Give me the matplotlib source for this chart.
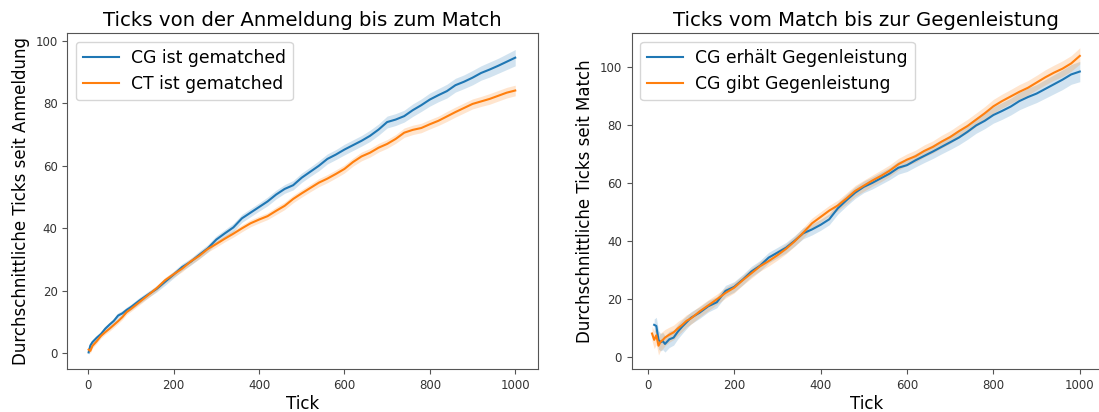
import numpy as np
import matplotlib.pyplot as plt

# linkes Diagramm: Ticks von der Anmeldung bis zum Match
tick_l = [1, 5, 10, 20, 30, 40, 50, 60, 70, 80, 90, 100, 120, 140, 160, 180, 200,
          220, 240, 260, 280, 300, 320, 340, 360, 380, 400, 420, 440, 460, 480, 500,
          520, 540, 560, 580, 600, 620, 640, 660, 680, 700, 720, 740, 760, 780, 800,
          820, 840, 860, 880, 900, 920, 940, 960, 980, 1000]
cg_gematched = [0.3, 2.5, 3.6, 5.0, 6.2, 7.9, 9.2, 10.4, 12.1, 12.8, 13.9, 14.8, 16.9, 18.8,
                20.6, 22.9, 25.2, 27.6, 29.3, 31.5, 33.6, 36.4, 38.4, 40.3, 43.2, 45.0, 46.8,
                48.6, 50.8, 52.6, 53.8, 56.2, 58.1, 60.0, 62.2, 63.6, 65.2, 66.6, 68.0, 69.6,
                71.6, 74.0, 74.8, 75.9, 77.8, 79.4, 81.2, 82.6, 83.9, 85.8, 86.9, 88.2, 89.7,
                90.8, 92.0, 93.3, 94.6]
cg_gematched_ci = [0.8, 0.8, 0.8, 0.8, 0.8, 0.8, 0.8, 0.8, 0.9, 0.9, 0.9, 0.9, 1.0, 1.0,
                   1.0, 1.1, 1.1, 1.1, 1.1, 1.2, 1.2, 1.2, 1.2, 1.3, 1.3, 1.3, 1.3, 1.4, 1.4,
                   1.4, 1.5, 1.5, 1.5, 1.6, 1.6, 1.6, 1.7, 1.7, 1.7, 1.8, 1.8, 1.9, 1.9, 1.9,
                   2.0, 2.0, 2.1, 2.1, 2.2, 2.2, 2.2, 2.3, 2.3, 2.4, 2.4, 2.5, 2.6]
ct_gematched = [1.2, 0.8, 2.4, 3.9, 5.6, 6.8, 7.9, 9.1, 10.3, 11.6, 13.2, 14.2, 16.4, 18.6,
                20.8, 23.4, 25.3, 27.1, 29.4, 31.2, 33.4, 35.0, 36.7, 38.3, 40.0, 41.6, 42.8,
                43.9, 45.6, 47.2, 49.4, 51.2, 52.9, 54.6, 55.9, 57.4, 59.0, 61.2, 63.0, 64.2,
                65.8, 67.0, 68.6, 70.6, 71.5, 72.1, 73.3, 74.4, 75.8, 77.2, 78.5, 79.8, 80.6,
                81.4, 82.4, 83.4, 84.1]
ct_gematched_ci = [0.7, 0.7, 0.7, 0.7, 0.7, 0.7, 0.8, 0.8, 0.8, 0.8, 0.8, 0.8, 0.9, 0.9,
                   0.9, 0.9, 0.9, 1.0, 1.0, 1.0, 1.0, 1.0, 1.0, 1.1, 1.1, 1.1, 1.1, 1.1, 1.2,
                   1.2, 1.2, 1.2, 1.2, 1.3, 1.3, 1.3, 1.3, 1.3, 1.4, 1.4, 1.4, 1.4, 1.4, 1.5,
                   1.5, 1.5, 1.5, 1.5, 1.6, 1.6, 1.6, 1.6, 1.6, 1.7, 1.7, 1.7, 1.7]

# rechtes Diagramm: Ticks vom Match bis zur Gegenleistung
tick_erh = [15, 20, 25, 30, 35, 40, 50, 60, 70, 80, 90, 100, 120, 140, 160, 180, 200,
            220, 240, 260, 280, 300, 320, 340, 360, 380, 400, 420, 440, 460, 480, 500,
            520, 540, 560, 580, 600, 620, 640, 660, 680, 700, 720, 740, 760, 780, 800,
            820, 840, 860, 880, 900, 920, 940, 960, 980, 1000]
cg_erhaelt = [11.2, 10.8, 6.0, 5.2, 5.6, 4.6, 6.2, 6.8, 8.9, 10.6, 12.1, 13.6, 15.4, 17.6,
              19.0, 22.9, 24.3, 26.8, 29.6, 31.6, 34.4, 36.1, 37.8, 40.2, 42.8, 44.1, 45.7,
              47.6, 51.4, 54.2, 56.8, 58.8, 60.2, 61.8, 63.4, 65.4, 66.3, 68.0, 69.5, 71.0,
              72.6, 74.2, 75.8, 77.8, 80.0, 81.6, 83.6, 85.0, 86.5, 88.4, 89.8, 91.0, 92.6,
              94.2, 95.8, 97.6, 98.6]
cg_erhaelt_ci = [2.0, 3.0, 3.2, 3.0, 3.0, 2.8, 2.8, 2.6, 2.5, 2.4, 2.2, 2.1, 2.0, 2.0,
                 1.9, 1.9, 1.8, 1.8, 1.8, 1.8, 1.8, 1.8, 1.8, 1.8, 1.9, 1.9, 1.9, 1.9, 2.0,
                 2.0, 2.0, 2.0, 2.1, 2.1, 2.1, 2.2, 2.2, 2.3, 2.3, 2.4, 2.4, 2.5, 2.5, 2.6,
                 2.7, 2.7, 2.8, 2.9, 2.9, 3.0, 3.1, 3.1, 3.2, 3.3, 3.4, 3.4, 3.5]
tick_gibt = [10, 15, 20, 25, 30, 35, 40, 50, 60, 70, 80, 90, 100, 120, 140, 160, 180, 200,
             220, 240, 260, 280, 300, 320, 340, 360, 380, 400, 420, 440, 460, 480, 500,
             520, 540, 560, 580, 600, 620, 640, 660, 680, 700, 720, 740, 760, 780, 800,
             820, 840, 860, 880, 900, 920, 940, 960, 980, 1000]
cg_gibt = [8.2, 6.0, 7.6, 4.0, 5.4, 6.0, 6.8, 7.8, 8.6, 10.0, 11.2, 12.6, 13.4, 15.8, 17.9,
           20.0, 22.2, 24.0, 26.6, 29.0, 31.4, 33.2, 35.2, 37.4, 40.0, 43.0, 46.2, 48.4,
           50.6, 52.4, 54.8, 57.4, 59.2, 61.0, 62.6, 64.4, 66.6, 68.2, 69.4, 71.2, 72.6,
           74.4, 76.0, 78.0, 79.8, 82.0, 84.2, 86.6, 88.4, 90.0, 91.6, 93.0, 94.8, 96.6,
           98.2, 99.6, 101.4, 104.0]
cg_gibt_ci = [2.5, 3.0, 3.2, 3.2, 3.0, 3.0, 2.8, 2.6, 2.5, 2.4, 2.2, 2.1, 2.0, 1.9, 1.9,
              1.8, 1.8, 1.8, 1.7, 1.7, 1.7, 1.7, 1.7, 1.7, 1.7, 1.8, 1.8, 1.8, 1.8, 1.8,
              1.9, 1.9, 1.9, 1.9, 2.0, 2.0, 2.0, 2.0, 2.1, 2.1, 2.1, 2.2, 2.2, 2.2, 2.3,
              2.3, 2.3, 2.4, 2.4, 2.4, 2.5, 2.5, 2.5, 2.6, 2.6, 2.7, 2.7, 2.8]

blau = '#1f77b4'
orange = '#ff7f0e'
grau = '#555555'


def linie(ax, x, y, ci, farbe, name):
    x = np.array(x)
    y = np.array(y)
    ci = np.array(ci)
    ax.fill_between(x, y - ci, y + ci, color=farbe, alpha=0.2, linewidth=0)
    ax.plot(x, y, color=farbe, linewidth=1.5, label=name)


def stil(ax, titel, ylabel):
    ax.set_title(titel, fontsize=14.2, pad=5)
    ax.set_xlabel('Tick', fontsize=12, labelpad=2)
    ax.set_ylabel(ylabel, fontsize=12, labelpad=4)
    ax.set_xticks([0, 200, 400, 600, 800, 1000])
    ax.tick_params(labelsize=8.5, colors=grau, labelcolor='#333333', length=3.5)
    for s in ax.spines.values():
        s.set_color(grau)
    ax.legend(loc='upper left', fontsize=12.4, handlelength=2.1, handletextpad=0.7)


fig = plt.figure(figsize=(10.99, 4.12), dpi=100)
ax1 = fig.add_axes([0.0612, 0.1036, 0.4286, 0.8156])
ax2 = fig.add_axes([0.5748, 0.1036, 0.4270, 0.8156])

linie(ax1, tick_l, cg_gematched, cg_gematched_ci, blau, 'CG ist gematched')
linie(ax1, tick_l, ct_gematched, ct_gematched_ci, orange, 'CT ist gematched')
ax1.set_xlim(-49, 1054)
ax1.set_ylim(-5.1, 102.4)
ax1.set_yticks([0, 20, 40, 60, 80, 100])
stil(ax1, 'Ticks von der Anmeldung bis zum Match', 'Durchschnittliche Ticks seit Anmeldung')

linie(ax2, tick_erh, cg_erhaelt, cg_erhaelt_ci, blau, 'CG erhält Gegenleistung')
linie(ax2, tick_gibt, cg_gibt, cg_gibt_ci, orange, 'CG gibt Gegenleistung')
ax2.set_xlim(-37, 1049)
ax2.set_ylim(-4.15, 111.8)
ax2.set_yticks([0, 20, 40, 60, 80, 100])
stil(ax2, 'Ticks vom Match bis zur Gegenleistung', 'Durchschnittliche Ticks seit Match')

fig.savefig('out.png', dpi=100)
